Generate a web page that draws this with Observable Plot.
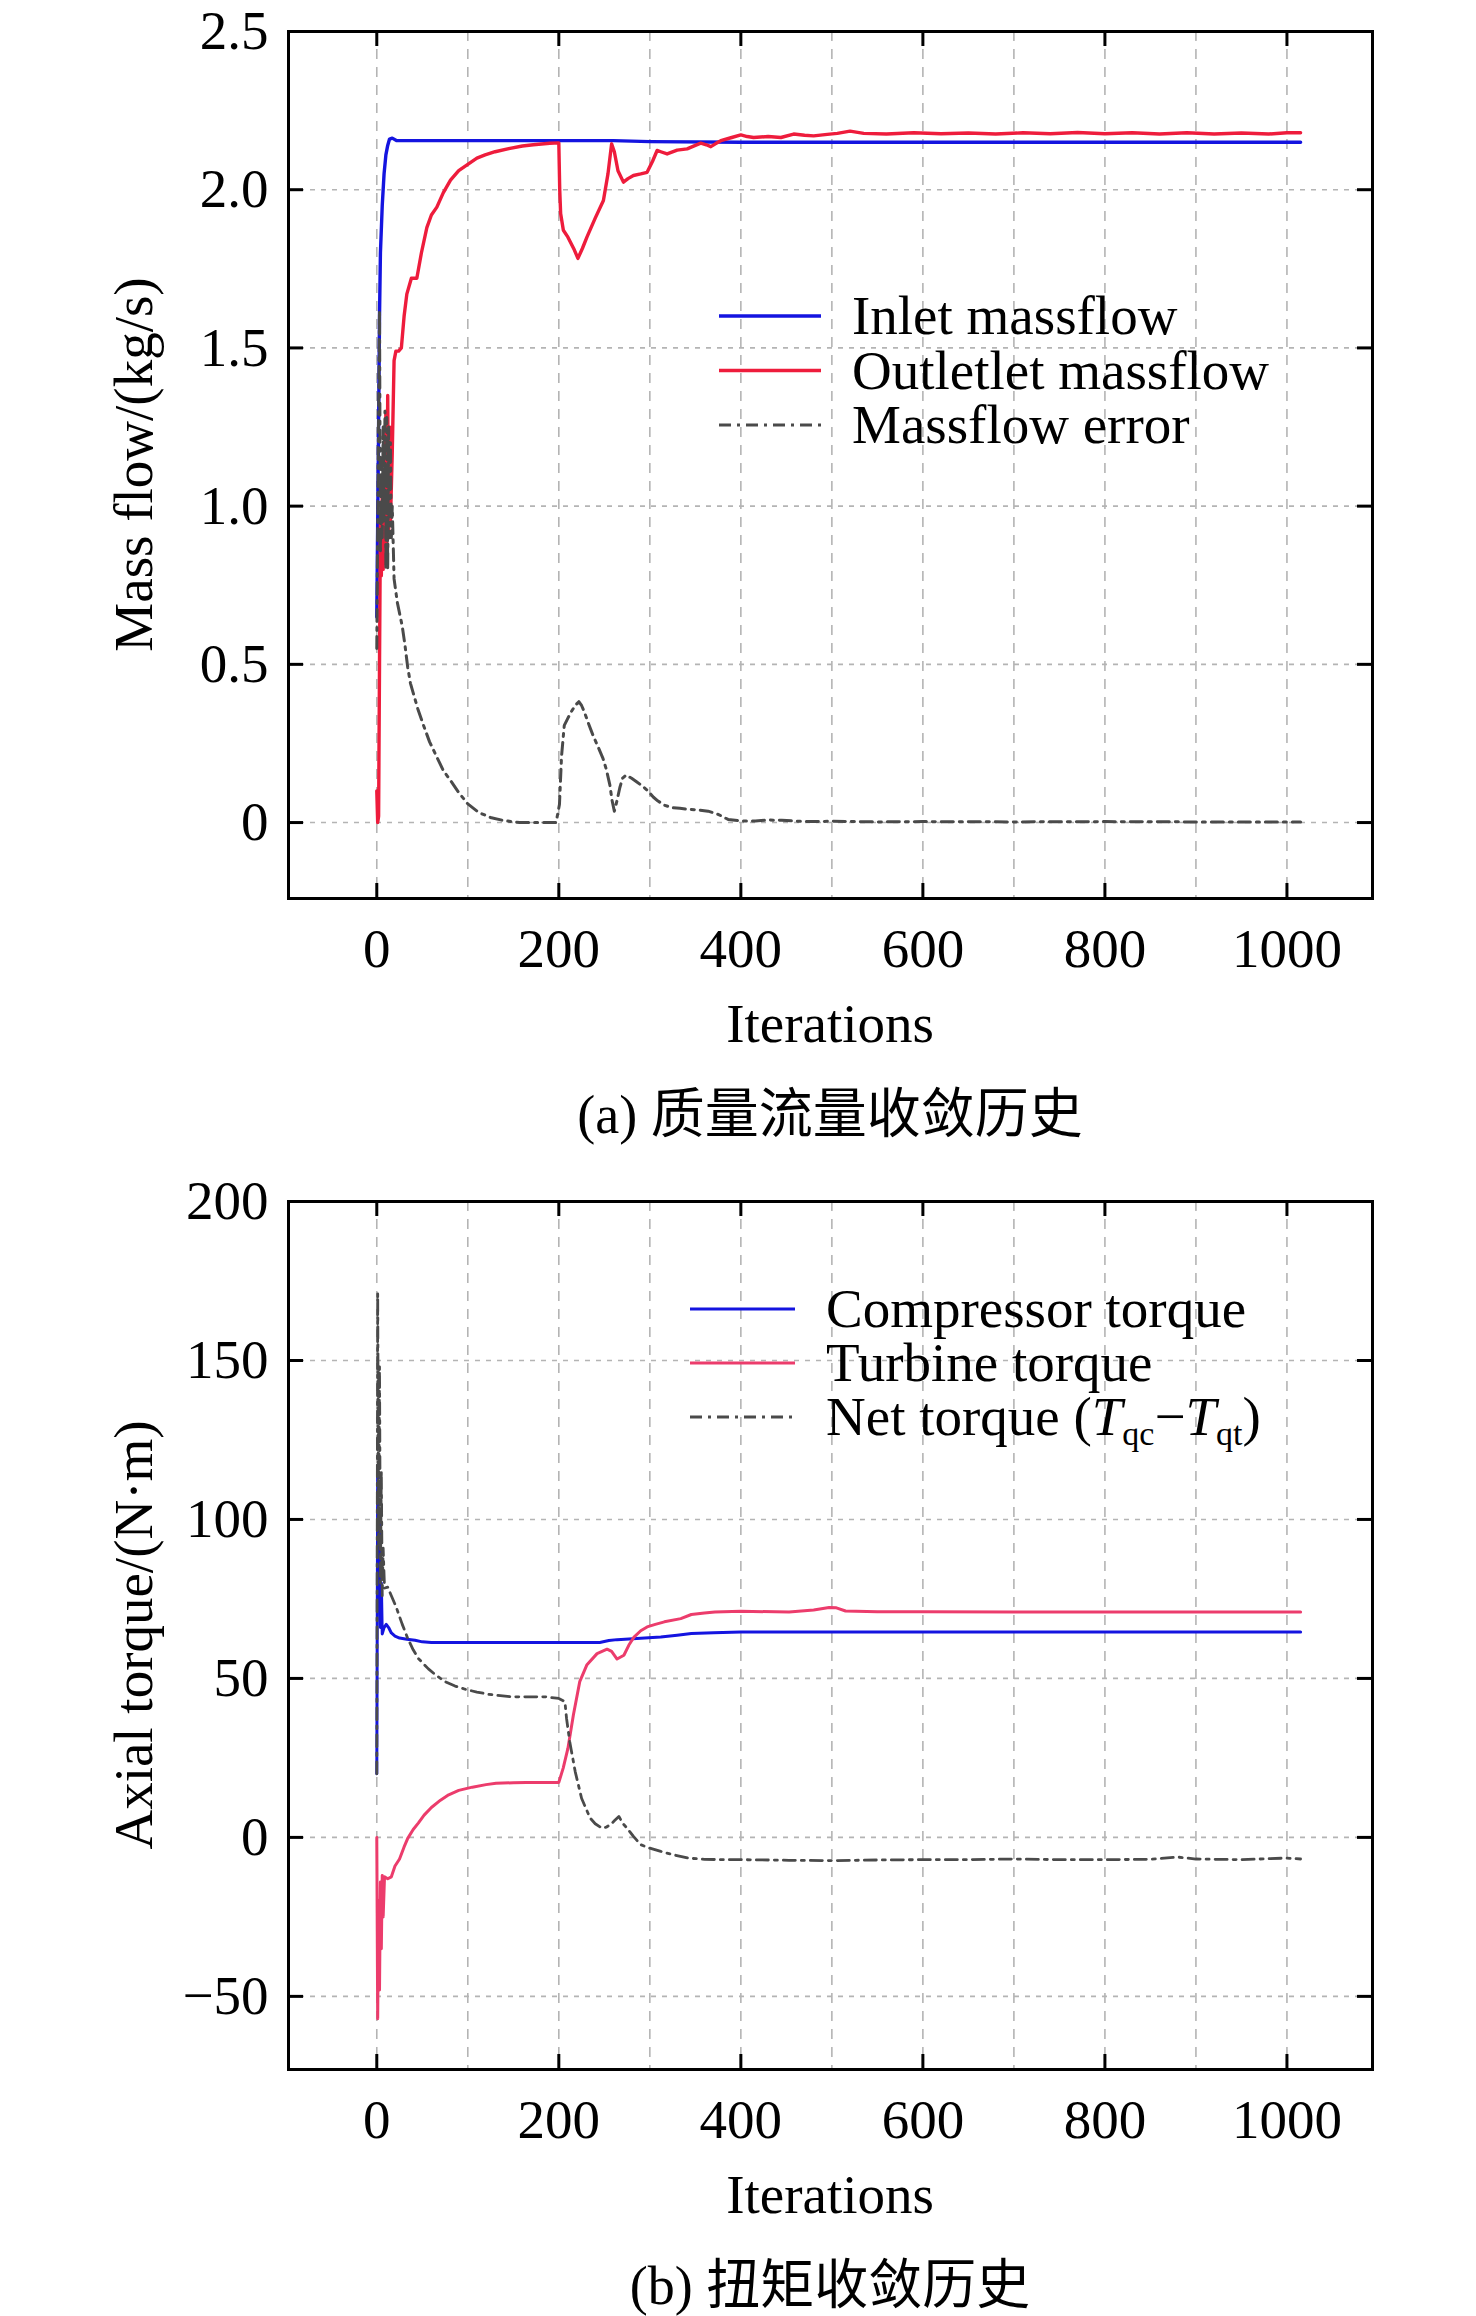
<!DOCTYPE html>
<html>
<head>
<meta charset="utf-8">
<script src="https://cdn.jsdelivr.net/npm/d3@7"></script>
<script src="https://cdn.jsdelivr.net/npm/@observablehq/plot@0.6"></script>
<style>
  html, body { margin: 0; padding: 0; background: white; }
  #wrap { width: 1476px; }
  svg { display: block; }
</style>
</head>
<body>
<div id="wrap"></div>
<script>
// ---------- Panel (a): mass flow ----------
const inletIter = [0, 1, 2, 3, 4, 6, 8, 10, 12, 14, 17, 22, 60, 200, 260, 300, 400, 600, 800, 1015];
const inletFlow = [0.65, 0.95, 1.25, 1.6, 1.8, 1.95, 2.05, 2.11, 2.14, 2.16, 2.163, 2.155, 2.155, 2.155, 2.155, 2.152, 2.15, 2.15, 2.15, 2.15];

const outletIter = [0, 1, 2, 3, 4, 5, 6, 7, 8, 9, 10, 11, 12, 13, 14, 15, 17, 19, 21, 24, 27, 30, 33, 38, 44, 49, 55, 60, 66, 73, 81, 90, 100, 110, 119, 130, 145, 160, 172, 190, 200,
  201, 202, 205, 210, 217, 221, 226, 231, 240, 249, 254, 258, 261, 265, 271, 276, 282, 290, 297, 303, 308, 312, 319, 330, 341, 350, 356, 362, 367, 372, 378, 390, 400,
  407, 414, 430, 444, 458, 470, 480, 495, 506, 520, 535, 560, 590, 620, 650, 680, 710, 740, 770, 800, 830, 860, 890, 920, 950, 980, 1000, 1015];
const outletFlow = [0.1, 0.0, 0.02, 0.5, 0.95, 0.78, 1.05, 0.8, 1.1, 0.82, 1.3, 0.85, 1.35, 0.9, 1.25, 0.95, 1.17, 1.46, 1.49, 1.49, 1.5, 1.6, 1.67, 1.72, 1.72, 1.8, 1.88, 1.92, 1.945, 1.99, 2.03, 2.06, 2.08, 2.1, 2.11, 2.12, 2.13, 2.138, 2.142, 2.147, 2.148,
  2.0, 1.925, 1.872, 1.85, 1.81, 1.783, 1.815, 1.851, 1.91, 1.966, 2.05, 2.145, 2.12, 2.06, 2.024, 2.035, 2.045, 2.05, 2.055, 2.09, 2.124, 2.12, 2.113, 2.125, 2.129, 2.14, 2.147, 2.142, 2.136, 2.145, 2.155, 2.165, 2.173,
  2.168, 2.165, 2.168, 2.165, 2.176, 2.172, 2.17, 2.175, 2.178, 2.185, 2.178, 2.176, 2.18, 2.177, 2.179, 2.176, 2.18, 2.177, 2.181, 2.177, 2.18, 2.176, 2.18, 2.176, 2.179, 2.176, 2.18, 2.18];

const errIter = [0, 1, 2, 3, 4, 5, 6, 7, 8, 9, 10, 11, 12, 13, 14, 15, 16, 17, 19, 22.6, 28, 31, 34, 37, 40, 45, 51, 58, 66, 73, 81, 90, 100, 112, 126, 140, 157, 180, 197,
  200.7, 203, 206, 210, 213.6, 218, 222, 225, 228, 233, 237.5, 243, 248.5, 252, 256, 258.5, 261, 264, 267, 270, 274, 280, 285, 292, 298, 304, 309, 316, 324, 333, 342, 353, 364, 375, 386,
  401, 416, 430, 445, 471, 500, 550, 600, 700, 800, 900, 1015];
const errFlow = [0.55, 0.95, 1.3, 1.62, 0.85, 1.15, 0.9, 1.25, 0.95, 1.3, 0.8, 1.28, 0.8, 1.25, 0.9, 1.2, 0.9, 1.0, 0.77, 0.695, 0.62, 0.56, 0.49, 0.44, 0.41, 0.36, 0.31, 0.255, 0.207, 0.165, 0.133, 0.095, 0.059, 0.032, 0.015, 0.006, 0.0, 0.0, 0.0,
  0.057, 0.21, 0.307, 0.33, 0.35, 0.37, 0.382, 0.37, 0.35, 0.31, 0.276, 0.24, 0.203, 0.17, 0.12, 0.07, 0.036, 0.07, 0.11, 0.14, 0.15, 0.14, 0.13, 0.115, 0.1, 0.08, 0.068, 0.055, 0.047, 0.045, 0.042, 0.04, 0.036, 0.026, 0.01,
  0.005, 0.005, 0.008, 0.007, 0.003, 0.004, 0.002, 0.003, 0.002, 0.003, 0.002, 0.002];

// ---------- Panel (b): torque ----------
const compIter = [0, 1, 2, 3, 4, 5, 6, 8, 10.4, 13, 16, 20, 25, 33, 42, 50, 60, 100, 150, 200, 245, 255, 264, 290, 312, 330, 345.6, 370, 400, 500, 700, 900, 1015];
const compTorque = [20, 114, 72, 100, 66, 80, 64, 66, 67, 66, 64.3, 63.3, 62.7, 62.3, 62.0, 61.5, 61.3, 61.3, 61.3, 61.3, 61.3, 61.9, 62.2, 62.6, 63, 63.6, 64.1, 64.4, 64.6, 64.6, 64.6, 64.6, 64.6];

const turbIter = [0, 1, 2, 3, 4, 5, 6, 7, 8.5, 12, 16, 20, 25, 30, 34, 40, 45.6, 52, 60, 70, 79, 90, 105, 120, 131, 150, 164, 180, 200,
  204.8, 210, 216, 223, 230.7, 242, 253, 258, 264, 271.5, 277, 282.6, 290, 297, 306, 316, 334, 345.6, 360, 371.5, 400, 453, 480, 497, 505, 515, 550, 600, 700, 800, 900, 1015];
const turbTorque = [0, -57, -20, -48, -14, -35, -12, -25, -12.4, -13, -12.4, -9, -6.8, -3, -0.3, 2.5, 4.5, 7, 9.4, 11.7, 13.4, 14.8, 15.8, 16.6, 17.0, 17.2, 17.3, 17.3, 17.3,
  21.8, 28, 38.5, 49, 54.2, 57.8, 59.2, 58.5, 56.1, 57.3, 60.5, 63, 65, 66.2, 67, 67.8, 68.8, 70.1, 70.6, 70.9, 71.1, 70.9, 71.5, 72.3, 72.2, 71.2, 71.0, 71.0, 70.9, 70.9, 70.9, 70.9];

const netIter = [0, 1, 2, 3, 4, 5, 6, 7, 8.5, 12, 16, 21.5, 28, 34, 40, 45.6, 56.7, 65, 75, 86, 97, 110, 123, 149, 186, 200,
  206.7, 208.5, 212, 218, 225, 234.4, 240, 247.4, 252, 256.7, 261, 266, 270, 275, 282, 290, 300, 312, 325, 341.9, 360, 379, 400, 453, 500, 550, 600, 650, 700, 750, 800, 850, 880, 900, 950, 1000, 1015];
const netTorque = [20, 171, 92, 148, 80, 115, 76, 91, 78.4, 78.7, 76, 72.3, 67, 62.6, 59, 56.3, 53, 51, 49, 47.6, 46.6, 45.7, 45, 44.2, 44.2, 43.7,
  42.7, 37.4, 30.1, 20.7, 12.3, 6.1, 4.3, 2.9, 3.2, 4.0, 5.2, 6.6, 4.5, 2.9, 0.3, -2.3, -3.4, -4.4, -5.4, -6.5, -6.9, -7.0, -7.0, -7.2, -7.3, -7.1, -7.0, -7.0, -6.8, -7.0, -7.0, -6.9, -6.2, -6.8, -7.0, -6.5, -6.8];

// ---------- ticks ----------
const xTickVals = [0, 200, 400, 600, 800, 1000];
const xGridVals = [0, 100, 200, 300, 400, 500, 600, 700, 800, 900, 1000];
const yTickValsA = [0, 0.5, 1.0, 1.5, 2.0, 2.5];
const yTickLabelsA = ["0", "0.5", "1.0", "1.5", "2.0", "2.5"];
const yTickValsB = [-50, 0, 50, 100, 150, 200];
const yTickLabelsB = ["\u221250", "0", "50", "100", "150", "200"];

const BLUE = "#1414e0";
const RED_A = "#ee1c3c";
const RED_B = "#ec3c6c";
const GREY = "#4a4a4a";
const DASHDOT = "12,6,3,6";
const SERIF = "'Liberation Serif', 'Times New Roman', serif";
const CJK = "'Liberation Serif', 'Noto Sans CJK SC', serif";

const zip = (xs, ys) => xs.map((x, i) => ({x, y: ys[i]}));

function panel(cfg) {
  const W = 1476, mL = 288, mR = 104;
  const innerW = W - mL - mR;
  const innerH = cfg.height - cfg.mT - cfg.mB;
  const tk = 15;
  const chart = Plot.plot({
    width: W,
    height: cfg.height,
    marginLeft: mL, marginRight: mR, marginTop: cfg.mT, marginBottom: cfg.mB,
    x: {domain: [-97, 1094]},
    y: {domain: cfg.yDomain},
    style: {fontFamily: SERIF, fontSize: "55px", background: "white", color: "black"},
    marks: [
      Plot.gridX(xGridVals, {stroke: "#b4b4b4", strokeOpacity: 1, strokeWidth: 1.6, strokeDasharray: "10,8"}),
      Plot.gridY(cfg.yVals, {stroke: "#b4b4b4", strokeOpacity: 1, strokeWidth: 1.6, strokeDasharray: "5,6"}),
      ...cfg.series.map(s => Plot.line(s.data, {x: "x", y: "y", stroke: s.color, strokeWidth: s.width, strokeDasharray: s.dash, curve: "linear"})),
      Plot.frame({stroke: "black", strokeWidth: 3}),
      Plot.tickX(xTickVals, {x: d => d, insetTop: innerH - tk, stroke: "black", strokeWidth: 3}),
      Plot.tickX(xTickVals, {x: d => d, insetBottom: innerH - tk, stroke: "black", strokeWidth: 3}),
      Plot.tickY(cfg.yVals, {y: d => d, insetRight: innerW - tk, stroke: "black", strokeWidth: 3}),
      Plot.tickY(cfg.yVals, {y: d => d, insetLeft: innerW - tk, stroke: "black", strokeWidth: 3}),
      Plot.axisX(xTickVals, {tickSize: 0, tickPadding: 29, label: null, fontSize: 55, tickFormat: d => String(d)}),
      Plot.axisY(cfg.yVals, {tickSize: 0, tickPadding: 20, label: null, fontSize: 55, tickFormat: d => cfg.yLabels[cfg.yVals.indexOf(d)]})
    ]
  });
  const svg = d3.select(chart);
  const cx = mL + innerW / 2;
  const fb = cfg.height - cfg.mB;
  const cy = cfg.mT + innerH / 2;
  svg.append("text").attr("x", cx).attr("y", fb + 144).attr("text-anchor", "middle")
    .attr("font-family", SERIF).attr("font-size", 55).attr("fill", "black").text("Iterations");
  svg.append("text").attr("transform", `translate(152,${cy}) rotate(-90)`).attr("text-anchor", "middle")
    .attr("font-family", SERIF).attr("font-size", 55).attr("fill", "black").text(cfg.yLabel);
  svg.append("text").attr("x", cx).attr("y", fb + 235).attr("text-anchor", "middle")
    .attr("font-family", CJK).attr("font-size", 54).attr("fill", "black").text(cfg.caption);
  // legend
  const lg = svg.append("g");
  cfg.series.forEach((s, i) => {
    const by = cfg.mT + cfg.legend.y0 + i * cfg.legend.dy;
    lg.append("line").attr("x1", cfg.legend.x1).attr("x2", cfg.legend.x2)
      .attr("y1", by - 18).attr("y2", by - 18)
      .attr("stroke", s.color).attr("stroke-width", s.width)
      .attr("stroke-dasharray", s.dash || null);
    const t = lg.append("text").attr("x", cfg.legend.tx).attr("y", by)
      .attr("text-anchor", "start")
      .attr("font-family", SERIF).attr("font-size", 55).attr("fill", "black");
    if (s.rich) s.rich(t); else t.text(s.label);
  });
  return chart;
}

const chartA = panel({
  height: 1160, mT: 31, mB: 262,
  yDomain: [-0.24, 2.5], yVals: yTickValsA, yLabels: yTickLabelsA,
  yLabel: "Mass flow/(kg/s)",
  caption: "(a) 质量流量收敛历史",
  legend: {x1: 719, x2: 821, tx: 852, y0: 303, dy: 54.5},
  series: [
    {label: "Inlet massflow", data: zip(inletIter, inletFlow), color: BLUE, width: 3.4},
    {label: "Outletlet massflow", data: zip(outletIter, outletFlow), color: RED_A, width: 3.4},
    {label: "Massflow error", data: zip(errIter, errFlow), color: GREY, width: 3, dash: DASHDOT}
  ]
});

const chartB = panel({
  height: 1156, mT: 41, mB: 247,
  yDomain: [-73, 200], yVals: yTickValsB, yLabels: yTickLabelsB,
  yLabel: "Axial torque/(N\u00b7m)",
  caption: "(b) 扭矩收敛历史",
  legend: {x1: 690, x2: 795, tx: 826, y0: 126, dy: 54},
  series: [
    {label: "Compressor torque", data: zip(compIter, compTorque), color: BLUE, width: 3},
    {label: "Turbine torque", data: zip(turbIter, turbTorque), color: RED_B, width: 3},
    {label: "Net torque", data: zip(netIter, netTorque), color: GREY, width: 2.8, dash: DASHDOT,
     rich: t => {
       t.append("tspan").text("Net torque (");
       t.append("tspan").attr("font-style", "italic").text("T");
       t.append("tspan").attr("font-size", 34).attr("dy", 10).text("qc");
       t.append("tspan").attr("dy", -10).text("\u2212");
       t.append("tspan").attr("font-style", "italic").text("T");
       t.append("tspan").attr("font-size", 34).attr("dy", 10).text("qt");
       t.append("tspan").attr("dy", -10).text(")");
     }}
  ]
});

const wrap = document.getElementById("wrap");
wrap.appendChild(chartA);
wrap.appendChild(chartB);
</script>
</body>
</html>
